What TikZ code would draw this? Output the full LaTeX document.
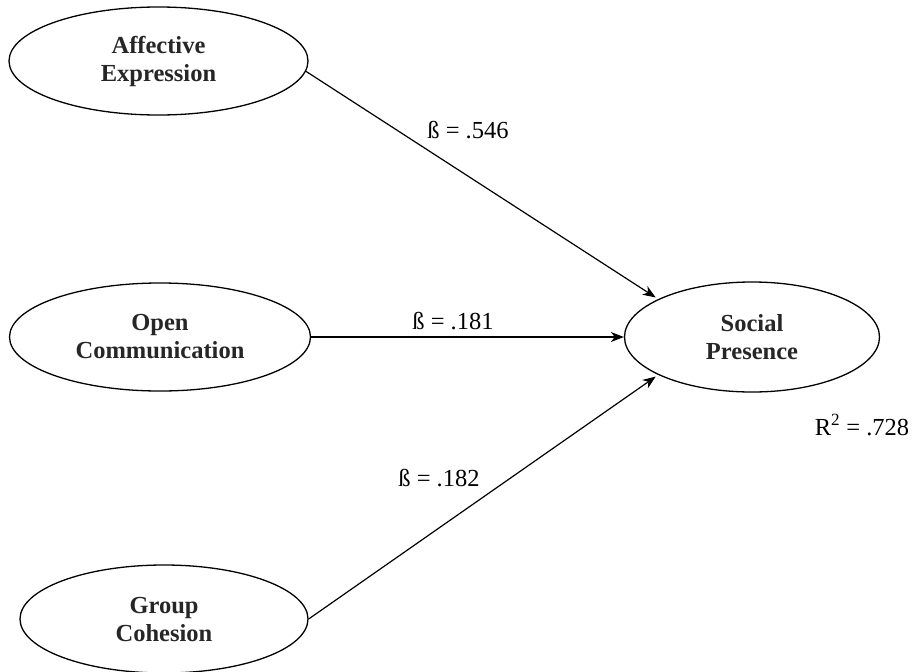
\documentclass[tikz,border=0pt]{standalone}
\usepackage{fontspec}
\setmainfont{Liberation Serif}
\usetikzlibrary{shapes.geometric,arrows.meta}
\begin{document}
\begin{tikzpicture}[x=1pt,y=-1pt,
  latent/.style={draw,line width=1.3pt,ellipse,minimum width=#1,minimum height=108pt,inner sep=0pt,
    align=center,font=\fontsize{24.5}{28}\selectfont\bfseries,text=black!85},
  latent/.default=300pt,
  path/.style={line width=1.2pt,-{Stealth[length=13pt,width=10pt,inset=4pt]},shorten >=3pt},
  coef/.style={font=\fontsize{24.5}{28}\selectfont}]
\useasboundingbox (0,0) rectangle (913,672);
\node[latent=299pt] (ae) at (158.5,61) {Affective\\Expression};
\node[latent=301pt] (oc) at (160,337) {Open\\Communication};
\node[latent=288pt] (gc) at (164,619) {Group\\Cohesion};
\node[latent=255pt,minimum height=110pt] (sp) at (752,337) {Social\\Presence};
\draw[path] (ae.-4) -- (sp.158);
\draw[path,shorten >=0pt] (oc) -- (sp);
\draw[path] (gc.east) -- (sp.-158);
\node[coef] (b1) at (468,130) {ß = .546};
\node[coef] (b2) at (453,321) {ß = .181};
\node[coef] (b3) at (439,478) {ß = .182};
\node[coef] (r2) at (862,425) {R\textsuperscript{2} = .728};
\end{tikzpicture}
\end{document}
